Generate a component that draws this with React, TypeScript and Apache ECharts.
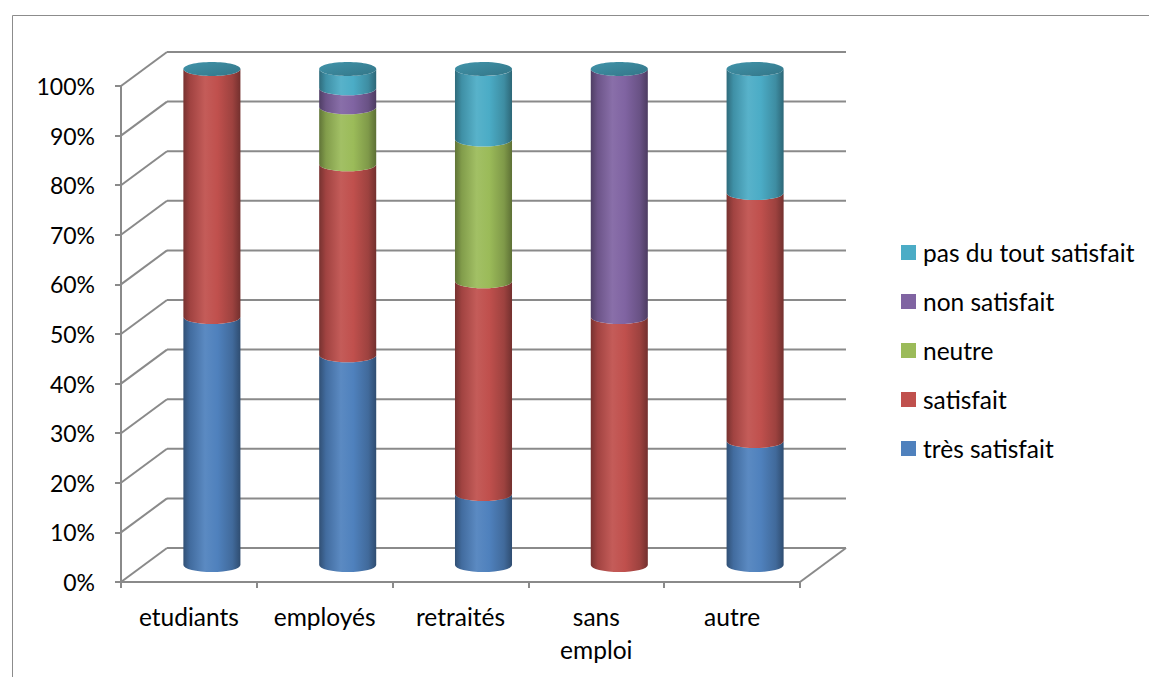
import React, { useEffect, useRef } from "react";
import * as echarts from "echarts";

// Survey results: share of each satisfaction level per population group
const CATEGORIES = ["etudiants", "employés", "retraités", "sans emploi", "autre"];
const SERIES_NAMES = [
  "très satisfait",
  "satisfait",
  "neutre",
  "non satisfait",
  "pas du tout satisfait",
];
const TRES_SATISFAIT = [50, 42.3, 14.3, 0, 25];
const SATISFAIT = [50, 38.5, 42.9, 50, 50];
const NEUTRE = [0, 11.5, 28.6, 0, 0];
const NON_SATISFAIT = [0, 3.8, 0, 50, 0];
const PAS_DU_TOUT = [0, 3.9, 14.2, 0, 25];
const SERIES_VALUES = [TRES_SATISFAIT, SATISFAIT, NEUTRE, NON_SATISFAIT, PAS_DU_TOUT];
const COLORS = ["#4F81BD", "#C0504D", "#9BBB59", "#8064A2", "#4BACC6"];
const Y_TICKS = [0, 10, 20, 30, 40, 50, 60, 70, 80, 90, 100];

// 3D depth offset of the back wall relative to the front plane
const DEPTH_X = 46;
const DEPTH_Y = 34;
const CYL_RATIO = 0.21; // cylinder radius as a share of band width
const CYL_RY = 7; // vertical radius of the elliptical sections
const GRID_COLOR = "#8a8a8a";
const FONT = "Lato, 'Open Sans', sans-serif";

function shade(hex: string, t: number): string {
  const n = parseInt(hex.slice(1), 16);
  let r = (n >> 16) & 255;
  let g = (n >> 8) & 255;
  let b = n & 255;
  if (t < 0) {
    r = r * (1 + t);
    g = g * (1 + t);
    b = b * (1 + t);
  } else {
    r = r + (255 - r) * t;
    g = g + (255 - g) * t;
    b = b + (255 - b) * t;
  }
  const h = (v: number) => Math.round(Math.max(0, Math.min(255, v))).toString(16).padStart(2, "0");
  return "#" + h(r) + h(g) + h(b);
}

function bodyGradient(color: string) {
  return new echarts.graphic.LinearGradient(0, 0, 1, 0, [
    { offset: 0, color: shade(color, -0.38) },
    { offset: 0.12, color: shade(color, -0.16) },
    { offset: 0.38, color: shade(color, 0.07) },
    { offset: 0.6, color: shade(color, 0) },
    { offset: 0.86, color: shade(color, -0.18) },
    { offset: 1, color: shade(color, -0.4) },
  ]);
}

export default function App() {
  const ref = useRef<HTMLDivElement>(null);

  useEffect(() => {
    document.body.style.margin = "0";
    if (!ref.current) return;
    const chart = echarts.init(ref.current, null, { renderer: "svg" });

    // cumulative stack bounds per category
    const bases = CATEGORIES.map(() => 0);
    const stacked = SERIES_VALUES.map((vals) =>
      vals.map((v, i) => {
        const start = bases[i];
        bases[i] += v;
        return [i, start, bases[i]];
      })
    );

    const lastIdx = SERIES_NAMES.length - 1;
    const capColor = COLORS[lastIdx];

    const cylinderSeries = SERIES_NAMES.map((name, s) => ({
      type: "custom",
      name,
      itemStyle: { color: COLORS[s] },
      encode: { x: 0, y: [1, 2] },
      data: stacked[s],
      z: 3,
      renderItem: (_params: any, api: any) => {
        const i = api.value(0);
        const start = api.value(1);
        const end = api.value(2);
        const bw = api.size([1, 0])[0];
        const a = bw * CYL_RATIO;
        const p0 = api.coord([i, start]);
        const p1 = api.coord([i, end]);
        const cx = p0[0] + DEPTH_X / 2;
        const yb = p0[1] - DEPTH_Y / 2;
        const yt = p1[1] - DEPTH_Y / 2;
        const children: any[] = [];
        if (end > start) {
          const d =
            `M ${cx - a} ${yt} L ${cx - a} ${yb} ` +
            `A ${a} ${CYL_RY} 0 0 0 ${cx + a} ${yb} ` +
            `L ${cx + a} ${yt} ` +
            `A ${a} ${CYL_RY} 0 0 1 ${cx - a} ${yt} Z`;
          children.push({
            type: "path",
            shape: { pathData: d },
            style: { fill: bodyGradient(COLORS[s]) },
          });
        }
        if (s === lastIdx) {
          children.push({
            type: "ellipse",
            shape: { cx, cy: yt, rx: a, ry: CYL_RY },
            style: {
              fill: new echarts.graphic.LinearGradient(0, 0, 1, 1, [
                { offset: 0, color: shade(capColor, -0.14) },
                { offset: 1, color: shade(capColor, -0.32) },
              ]),
            },
          });
        }
        return { type: "group", children };
      },
    }));

    // back wall gridlines with their side diagonals, plus the floor edge
    const wallSeries = {
      type: "custom",
      name: "wall",
      silent: true,
      z: 1,
      encode: { x: 0, y: 1 },
      data: Y_TICKS.map((v) => [0, v]),
      renderItem: (_params: any, api: any) => {
        const v = api.value(1);
        const bw = api.size([1, 0])[0];
        const pl = api.coord([0, v]);
        const pr = api.coord([CATEGORIES.length - 1, v]);
        const x0 = pl[0] - bw / 2;
        const x1 = pr[0] + bw / 2;
        const y = pl[1];
        const st = { stroke: GRID_COLOR, lineWidth: 2 };
        const children: any[] = [
          { type: "line", shape: { x1: x0 + DEPTH_X, y1: y - DEPTH_Y, x2: x1 + DEPTH_X, y2: y - DEPTH_Y }, style: st },
          { type: "line", shape: { x1: x0, y1: y, x2: x0 + DEPTH_X, y2: y - DEPTH_Y }, style: st },
        ];
        if (v === 0) {
          children.push({ type: "line", shape: { x1: x1, y1: y, x2: x1 + DEPTH_X, y2: y - DEPTH_Y }, style: st });
        }
        return { type: "group", children };
      },
    };

    chart.setOption({
      animation: false,
      color: COLORS,
      textStyle: { fontFamily: FONT },
      graphic: [
        {
          type: "rect",
          shape: { x: 12.5, y: 15.5, width: 1300, height: 900 },
          style: { fill: "none", stroke: "#8c8c8c", lineWidth: 1 },
          silent: true,
          z: -1,
        },
      ],
      grid: { left: 121, top: 86, width: 679, height: 496 },
      legend: {
        data: [...SERIES_NAMES].reverse(),
        orient: "vertical",
        left: 896,
        top: 235,
        padding: 5,
        icon: "rect",
        itemWidth: 15,
        itemHeight: 15,
        itemGap: 24,
        selectedMode: false,
        textStyle: { fontFamily: FONT, fontSize: 24.5, color: "#000", lineHeight: 22, padding: [0, 0, 0, 2] },
      },
      xAxis: {
        type: "category",
        data: CATEGORIES,
        axisLine: { show: true, lineStyle: { color: GRID_COLOR, width: 2 } },
        axisTick: { show: true, length: 6, alignWithLabel: false, lineStyle: { color: GRID_COLOR, width: 2 } },
        axisLabel: {
          fontFamily: FONT,
          fontSize: 24.5,
          color: "#000",
          margin: 18,
          lineHeight: 33,
          interval: 0,
          formatter: (v: string) => v.replace(" ", "\n"),
        },
        splitLine: { show: false },
      },
      yAxis: {
        type: "value",
        min: 0,
        max: 100,
        interval: 10,
        axisLine: { show: true, lineStyle: { color: GRID_COLOR, width: 2 } },
        axisTick: { show: true, length: 6, lineStyle: { color: GRID_COLOR, width: 2 } },
        axisLabel: { fontFamily: FONT, fontSize: 23, color: "#000", margin: 26, formatter: "{value}%" },
        splitLine: { show: false },
      },
      series: [wallSeries, ...cylinderSeries],
    });

    return () => chart.dispose();
  }, []);

  return <div ref={ref} style={{ width: 1149, height: 677 }} />;
}
